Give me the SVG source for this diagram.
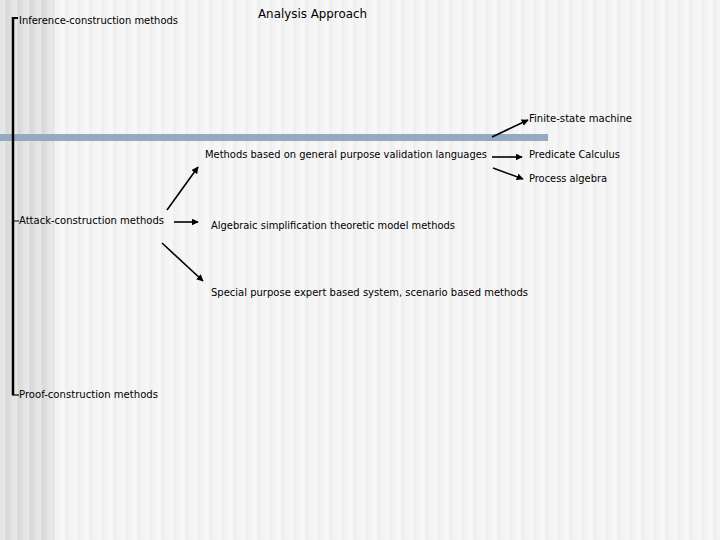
<svg xmlns="http://www.w3.org/2000/svg" width="720" height="540" viewBox="0 0 720 540">
  <defs>
    <linearGradient id="stripeL" x1="0" y1="0" x2="1" y2="0">
      <stop offset="0" stop-color="#f5f5f5"/>
      <stop offset="0.35" stop-color="#f8f8f8"/>
      <stop offset="0.5" stop-color="#eeeeee"/>
      <stop offset="0.8" stop-color="#f3f3f3"/>
      <stop offset="1" stop-color="#f5f5f5"/>
    </linearGradient>
    <linearGradient id="stripeD" x1="0" y1="0" x2="1" y2="0">
      <stop offset="0" stop-color="#e4e4e4"/>
      <stop offset="0.4" stop-color="#e8e8e8"/>
      <stop offset="0.5" stop-color="#d8d8d8"/>
      <stop offset="0.85" stop-color="#dedede"/>
      <stop offset="1" stop-color="#e4e4e4"/>
    </linearGradient>
    <pattern id="pL" x="0" y="0" width="12" height="540" patternUnits="userSpaceOnUse">
      <rect width="12" height="540" fill="url(#stripeL)"/>
    </pattern>
    <pattern id="pD" x="0" y="0" width="12" height="540" patternUnits="userSpaceOnUse">
      <rect width="12" height="540" fill="url(#stripeD)"/>
    </pattern>
    <marker id="ah" viewBox="0 0 10 10" refX="9" refY="5" markerWidth="7" markerHeight="7" markerUnits="userSpaceOnUse" orient="auto">
      <path d="M0,0 L10,5 L0,10 z" fill="#000"/>
    </marker>
    <style>
      text { font-family: "DejaVu Sans", Verdana, sans-serif; font-size: 10px; fill: #000; }
      .title { font-size: 12.5px; }
      .arr { stroke: #000; stroke-width: 1.6; fill: none; marker-end: url(#ah); }
      .br { stroke: #000; fill: none; }
    </style>
  </defs>

  <rect width="720" height="540" fill="url(#pL)"/>
  <rect width="54" height="540" fill="url(#pD)"/>
  <rect x="0" y="134" width="548" height="7" fill="#95a9c1"/>

  <g id="bracket">
    <line class="br" x1="13" y1="17" x2="13" y2="395" stroke-width="2.5"/>
    <line class="br" x1="12" y1="18" x2="18" y2="18" stroke-width="2"/>
    <line class="br" x1="13" y1="221" x2="19" y2="221" stroke-width="1"/>
    <line class="br" x1="12" y1="395" x2="19" y2="395" stroke-width="1.2"/>
  </g>

  <g id="title"><text class="title" x="258" y="18" textLength="109" lengthAdjust="spacingAndGlyphs">Analysis Approach</text></g>
  <g id="inference"><text x="19" y="24" textLength="159" lengthAdjust="spacingAndGlyphs">Inference-construction methods</text></g>
  <g id="attack"><text x="19" y="224" textLength="145" lengthAdjust="spacingAndGlyphs">Attack-construction methods</text></g>
  <g id="proof"><text x="19" y="398" textLength="139" lengthAdjust="spacingAndGlyphs">Proof-construction methods</text></g>
  <g id="general"><text x="205" y="158" textLength="282" lengthAdjust="spacingAndGlyphs">Methods based on general purpose validation languages</text></g>
  <g id="algebraic"><text x="211" y="229" textLength="244" lengthAdjust="spacingAndGlyphs">Algebraic simplification theoretic model methods</text></g>
  <g id="special"><text x="211" y="296" textLength="317" lengthAdjust="spacingAndGlyphs">Special purpose expert based system, scenario based methods</text></g>
  <g id="finite"><text x="529" y="122" textLength="103" lengthAdjust="spacingAndGlyphs">Finite-state machine</text></g>
  <g id="predicate"><text x="529" y="158" textLength="91" lengthAdjust="spacingAndGlyphs">Predicate Calculus</text></g>
  <g id="process"><text x="529" y="182" textLength="78" lengthAdjust="spacingAndGlyphs">Process algebra</text></g>

  <g id="connectors">
    <line class="arr" x1="167" y1="210" x2="198" y2="167"/>
    <line class="arr" x1="174" y1="222" x2="198" y2="222"/>
    <line class="arr" x1="162" y1="243" x2="203" y2="281"/>
    <line class="arr" x1="492" y1="137" x2="528" y2="120"/>
    <line class="arr" x1="492" y1="157" x2="522" y2="157"/>
    <line class="arr" x1="493" y1="168" x2="523" y2="179"/>
  </g>
</svg>
